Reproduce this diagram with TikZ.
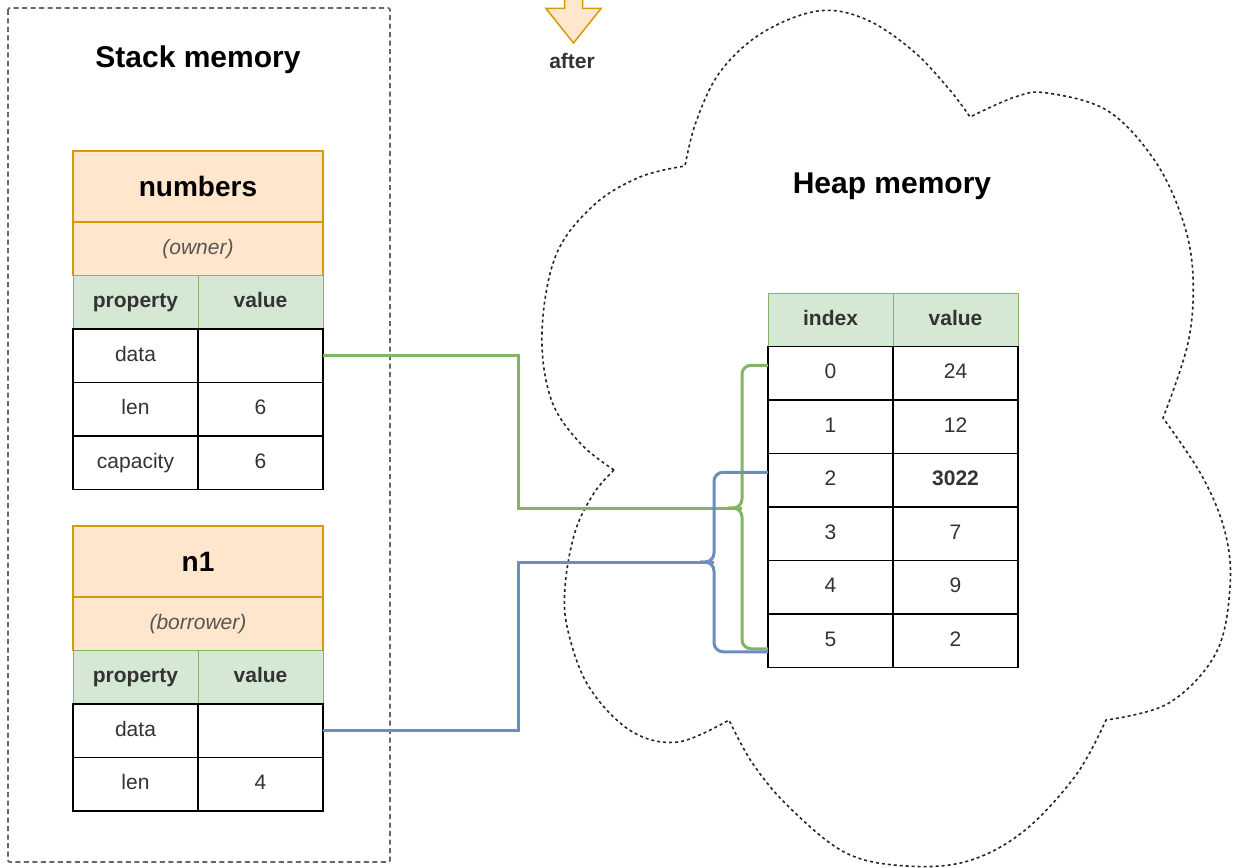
\documentclass[tikz,border=0pt]{standalone}
\usepackage{fontspec}
\setmainfont{Liberation Sans}
\usetikzlibrary{positioning}
\definecolor{orangefill}{HTML}{FFE6CC}
\definecolor{orangeline}{HTML}{D79B00}
\definecolor{greenfill}{HTML}{D5E8D4}
\definecolor{greenline}{HTML}{82B366}
\definecolor{blueline}{HTML}{6C8EBF}
\definecolor{textgray}{HTML}{333333}
\definecolor{rolegray}{HTML}{555555}
\tikzset{
    x = 1pt, y = -1pt,                              % one unit per pixel, y pointing down
    every node/.style = {inner sep=0pt, outer sep=0pt, text=textgray},
    cell/.style = {draw=black, line width=1.5pt, fill=white, minimum width=125pt, minimum height=53.5pt,
                   text height=15pt, text depth=4pt, font=\fontsize{21}{25}\selectfont},
    headcell/.style = {cell, draw=greenline, line width=1pt, fill=greenfill, font=\fontsize{21}{25}\selectfont\bfseries},
    titlecell/.style = {draw=orangeline, line width=1.5pt, fill=orangefill, minimum width=250pt, minimum height=71pt,
                        text=black, font=\fontsize{28}{32}\selectfont\bfseries},
    rolecell/.style = {titlecell, minimum height=53.5pt, text=rolegray, font=\fontsize{21}{25}\selectfont\itshape},
    regiontitle/.style = {text=black, font=\fontsize{30}{34}\selectfont\bfseries},
    stackregion/.style = {draw=black!60, line width=1.8pt, dash pattern=on 5pt off 3.5pt},
    heapregion/.style = {draw=black!85, line width=1.6pt, dash pattern=on 3pt off 3pt},
    ptr/.style = {line width=3pt}
}
\begin{document}
\begin{tikzpicture}
    \useasboundingbox (0,0) rectangle (1233,867);
    \clip (0,0) rectangle (1233,867);

    % stack side
    \draw[stackregion, rounded corners=2pt] (8,8) rectangle (390,862);
    \node[regiontitle] (stacktitle) at (198,60) {Stack memory};

    \node[titlecell] (numbers) at (198,186.5) {numbers};
    \node[rolecell, below=0pt of numbers] (numrole) {(owner)};
    \node[headcell, below right=0pt of numrole.south west] (numprop) {property};
    \node[headcell, right=0pt of numprop] (numval) {value};
    \node[cell, below=0pt of numprop] (numdata) {data};
    \node[cell, right=0pt of numdata] (numdataval) {};
    \node[cell, below=0pt of numdata] (numlen) {len};
    \node[cell, right=0pt of numlen] (numlenval) {6};
    \node[cell, below=0pt of numlen] (numcap) {capacity};
    \node[cell, right=0pt of numcap] (numcapval) {6};

    \node[titlecell] (n1) at (198,561.5) {n1};
    \node[rolecell, below=0pt of n1] (n1role) {(borrower)};
    \node[headcell, below right=0pt of n1role.south west] (n1prop) {property};
    \node[headcell, right=0pt of n1prop] (n1val) {value};
    \node[cell, below=0pt of n1prop] (n1data) {data};
    \node[cell, right=0pt of n1data] (n1dataval) {};
    \node[cell, below=0pt of n1data] (n1len) {len};
    \node[cell, right=0pt of n1len] (n1lenval) {4};

    % the "after" marker
    \draw[draw=orangeline, fill=orangefill, line width=1.5pt, line join=miter]
        (564.5,-10) -- (564.5,8.5) -- (546,8.5) -- (573.5,43) -- (601,8.5) -- (582.5,8.5) -- (582.5,-10) -- cycle;
    \node[font=\fontsize{21}{25}\selectfont\bfseries] (after) at (572,61) {after};

    % heap side
    \draw[heapregion]
        plot[smooth, tension=0.6] coordinates {(614,470) (580,443) (551,399) (542,332) (556,255) (594,205) (640,177) (685,166)}
        -- plot[smooth, tension=0.6] coordinates {(685,166) (696,122) (720,72) (762,33) (818,11) (865,19) (912,50) (949,89) (970,117)}
        -- plot[smooth, tension=0.6] coordinates {(970,117) (1015,97) (1047,93) (1108,111) (1155,161) (1183,221) (1193,277) (1188,343) (1163,418)}
        -- plot[smooth, tension=0.6] coordinates {(1163,418) (1202,476) (1225,532) (1230,587) (1216,653) (1169,703) (1106,720)}
        -- plot[smooth, tension=0.6] coordinates {(1106,720) (1076,775) (1024,831) (968,861) (907,866) (846,853) (790,808) (753,764) (729,720)}
        -- plot[smooth, tension=0.6] coordinates {(729,720) (678,742) (631,731) (589,687) (568,631) (565,587) (575,532) (594,493) (614,470)};
    \node[regiontitle] (heaptitle) at (892,186) {Heap memory};

    \node[headcell] (hidx) at (830.5,319.75) {index};
    \node[headcell, right=0pt of hidx] (hval) {value};
    \foreach \i/\v in {0/24, 1/12, 2/\textbf{3022}, 3/7, 4/9, 5/2} {
        \node[cell] (idx\i) at (830.5,{373.25+53.5*\i}) {\i};
        \node[cell, right=0pt of idx\i] (val\i) {\v};
    }

    % pointers
    \coordinate (gsplit) at (742,508);
    \coordinate (bsplit) at (714,562);
    \draw[ptr, greenline] (numdataval.east) -| (518,508) -- (gsplit);
    \draw[ptr, greenline, rounded corners=9pt] ([xshift=-14pt]gsplit) -| ([yshift=8pt]idx0.west -| gsplit) -- ([yshift=8pt]idx0.west);
    \draw[ptr, greenline, rounded corners=9pt] ([xshift=-14pt]gsplit) -| ([yshift=-8pt]idx5.west -| gsplit) -- ([yshift=-8pt]idx5.west);
    \draw[ptr, blueline] (n1dataval.east) -| (518,562) -- (bsplit);
    \draw[ptr, blueline, rounded corners=9pt] ([xshift=-14pt]bsplit) -| ([yshift=8pt]idx2.west -| bsplit) -- ([yshift=8pt]idx2.west);
    \draw[ptr, blueline, rounded corners=9pt] ([xshift=-14pt]bsplit) -| ([yshift=-11pt]idx5.west -| bsplit) -- ([yshift=-11pt]idx5.west);
\end{tikzpicture}
\end{document}
